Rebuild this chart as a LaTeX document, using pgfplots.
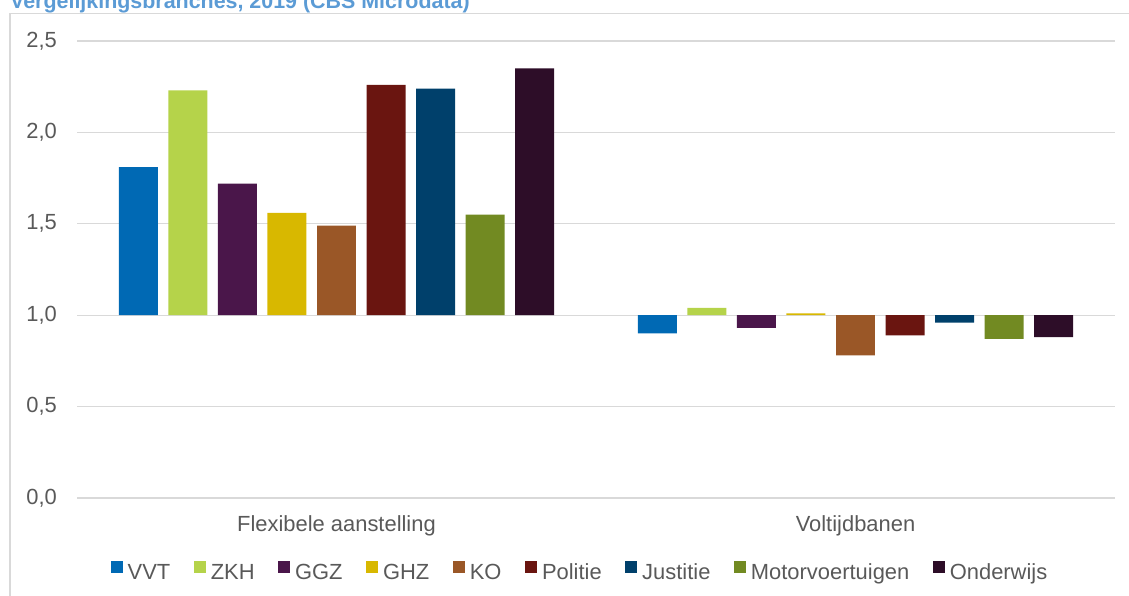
\documentclass[border=0pt]{standalone}
\usepackage{pgfplots}
\pgfplotsset{compat=1.18}
\usepackage{pgfplotstable}
\usepackage{fontspec}
\setmainfont{Liberation Sans}

\definecolor{cVVT}{HTML}{0069B4}
\definecolor{cZKH}{HTML}{B5D34A}
\definecolor{cGGZ}{HTML}{4A164A}
\definecolor{cGHZ}{HTML}{D8B800}
\definecolor{cKO}{HTML}{9A5727}
\definecolor{cPol}{HTML}{6A1510}
\definecolor{cJus}{HTML}{00406B}
\definecolor{cMot}{HTML}{728A22}
\definecolor{cOnd}{HTML}{2D0D28}
\definecolor{textgray}{HTML}{595959}
\definecolor{gridgray}{HTML}{D9D9D9}
\definecolor{titleblue}{HTML}{5B9BD5}

\pgfplotstableread{
x VVT ZKH GGZ GHZ KO Politie Justitie Motor Onderwijs
0 1.81 2.23 1.72 1.56 1.49 2.26 2.24 1.55 2.35
1 0.90 1.04 0.93 1.01 0.78 0.89 0.96 0.87 0.88
}\datatable

\begin{document}
\fontsize{22}{26}\selectfont
\begin{tikzpicture}[x=1bp,y=1bp]
\draw[gridgray, line width=1.2bp] (10,-10) -- (10,582.5) -- (1140,582.5);
\node[anchor=base west, inner sep=0pt, text=titleblue, font=\fontsize{21.5}{25}\selectfont\bfseries] at (10,587) {Vergelijkingsbranches, 2019 (CBS Microdata)};
\begin{axis}[
  at={(77bp,98bp)}, anchor=south west,
  width=1038bp, height=457bp, scale only axis,
  xmin=-0.5, xmax=1.5, ymin=-1, ymax=1.5,
  xtick={0,1}, xticklabels={Flexibele aanstelling, Voltijdbanen},
  ytick={-1,-0.5,0,0.5,1,1.5},
  yticklabels={{0,0},{0,5},{1,0},{1,5},{2,0},{2,5}},
  axis line style={draw=none},
  major tick length=0pt,
  ymajorgrids,
  grid style={draw=gridgray, line width=1.3bp},
  ticklabel style={font=\fontsize{22}{26}\selectfont, text=textgray},
  yticklabel style={anchor=east, inner sep=0pt, xshift=-20bp},
  xticklabel style={anchor=north, inner sep=0pt, yshift=-17bp},
  y filter/.expression={y-1},
  mybar/.style={ybar, bar width=0.0751, draw=none,
    legend image code/.code={\fill[##1,draw=none] (0bp,0bp) rectangle (12bp,12bp);}},
  legend columns=9,
  legend style={at={(0.4836,-0.162)}, anchor=center, draw=none, fill=none,
    font=\fontsize{22}{26}\selectfont, text=textgray,
    nodes={inner sep=0pt},
    /tikz/every odd column/.append style={column sep=5bp},
    /tikz/every even column/.append style={column sep=23.5bp}},
]
\addplot[mybar, fill=cVVT, bar shift=-0.3816] table[x=x,y=VVT] {\datatable};
\addlegendentry{VVT}
\addplot[mybar, fill=cZKH, bar shift=-0.2862] table[x=x,y=ZKH] {\datatable};
\addlegendentry{ZKH}
\addplot[mybar, fill=cGGZ, bar shift=-0.1908] table[x=x,y=GGZ] {\datatable};
\addlegendentry{GGZ}
\addplot[mybar, fill=cGHZ, bar shift=-0.0954] table[x=x,y=GHZ] {\datatable};
\addlegendentry{GHZ}
\addplot[mybar, fill=cKO, bar shift=0] table[x=x,y=KO] {\datatable};
\addlegendentry{KO}
\addplot[mybar, fill=cPol, bar shift=0.0954] table[x=x,y=Politie] {\datatable};
\addlegendentry{Politie}
\addplot[mybar, fill=cJus, bar shift=0.1908] table[x=x,y=Justitie] {\datatable};
\addlegendentry{Justitie}
\addplot[mybar, fill=cMot, bar shift=0.2862] table[x=x,y=Motor] {\datatable};
\addlegendentry{Motorvoertuigen}
\addplot[mybar, fill=cOnd, bar shift=0.3816] table[x=x,y=Onderwijs] {\datatable};
\addlegendentry{Onderwijs}
\end{axis}
\pgfresetboundingbox
\path[use as bounding box] (0,0) rectangle (1129,596);
\end{tikzpicture}
\end{document}
